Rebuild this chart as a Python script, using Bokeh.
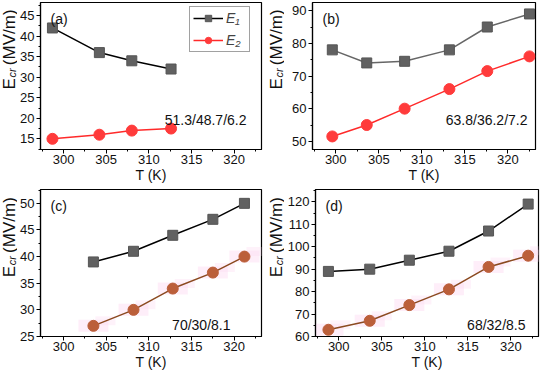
import math
from bokeh.plotting import figure
from bokeh.models import Label, Legend, LegendItem, Range1d, FixedTicker
from bokeh.layouts import column, row
from bokeh.embed import file_html
from bokeh.resources import INLINE

# ---------------- data ----------------
T_a = [298.7, 304.2, 308.0, 312.6]
E1_a = [42, 36, 34, 32]
E2_a = [15, 16, 17, 17.5]

T_b = [299.6, 303.6, 308.0, 313.2, 317.6, 322.5]
E1_b = [78, 74, 74.5, 78, 85, 89]
E2_b = [51.5, 55, 60, 66, 71.5, 76]

T_c = [303.5, 308.2, 312.8, 317.5, 321.2]
E1_c = [39, 41, 44, 47, 50]
E2_c = [27, 30, 34, 37, 40]

T_d = [298.8, 303.6, 308.2, 312.8, 317.4, 322.0]
E1_d = [89, 90, 94, 98, 107, 119]
E2_d = [63, 67, 74, 81, 91, 96]

x_ticks = [300, 305, 310, 315, 320]
y_ticks_a = [15, 20, 25, 30, 35, 40, 45]
y_ticks_b = [50, 60, 70, 80, 90]
y_ticks_c = [25, 30, 35, 40, 45, 50]
y_ticks_d = [60, 70, 80, 90, 100, 110, 120]

panel_tags = ["(a)", "(b)", "(c)", "(d)"]
ratios = ["51.3/48.7/6.2", "63.8/36.2/7.2", "70/30/8.1", "68/32/8.5"]

X0, X1 = 297.3, 323.2
FONT = "Liberation Sans"
FH = 147
TXT = "#111111"


def make(T, E1, E2, yr, yt, tag, ratio, fw, left, right, top, bottom,
         e1_line, e2_line, e2_fill, halo, ratio_pos, legend=False):
    p = figure(frame_width=fw, frame_height=FH, output_backend="svg",
               toolbar_location=None, x_range=Range1d(X0, X1),
               y_range=Range1d(*yr), min_border_left=left,
               min_border_right=right, min_border_top=top,
               min_border_bottom=bottom)
    p.outline_line_color = "black"
    p.outline_line_width = 1.2
    p.grid.visible = False
    p.background_fill_color = "white"
    p.border_fill_color = "white"
    for ax in (p.xaxis[0], p.yaxis[0]):
        ax.axis_line_color = "black"
        ax.axis_line_width = 1.2
        ax.major_tick_line_color = "black"
        ax.minor_tick_line_color = "black"
        ax.major_tick_out = 4
        ax.major_tick_in = 0
        ax.minor_tick_out = 2
        ax.minor_tick_in = 0
        ax.major_label_text_font = FONT
        ax.major_label_text_font_size = "13px"
        ax.major_label_text_color = TXT
    p.xaxis.ticker = FixedTicker(ticks=x_ticks,
                                 minor_ticks=[t + 2.5 for t in [295] + x_ticks])
    step = yt[1] - yt[0]
    p.yaxis.ticker = FixedTicker(ticks=yt,
                                 minor_ticks=[t + step / 2 for t in [yt[0] - step] + yt])
    p.xaxis.axis_label = "T (K)"
    p.xaxis.axis_label_text_font = FONT
    p.xaxis.axis_label_text_font_size = "14px"
    p.xaxis.axis_label_text_font_style = "normal"
    p.xaxis.axis_label_text_color = TXT
    p.xaxis.axis_label_standoff = 0
    p.xaxis.major_label_standoff = 1
    p.yaxis.major_label_standoff = 2

    xpp = (X1 - X0) / fw
    ypp = (yr[1] - yr[0]) / FH

    if halo:
        p.rect(T, E2, width=30 * xpp, height=12 * ypp, fill_color="#fcd9f1",
               fill_alpha=0.45, line_color=None)
        p.rect([t + 12 * xpp for t in T], [e + 5 * ypp for e in E2],
               width=20 * xpp, height=9 * ypp, fill_color="#fcd9f1",
               fill_alpha=0.35, line_color=None)

    l1 = p.line(T, E1, line_color=e1_line, line_width=1.5)
    s1 = p.scatter(T, E1, marker="square", size=10, fill_color="#616161",
                   line_color="#555555")
    l2 = p.line(T, E2, line_color=e2_line, line_width=1.5)
    s2 = p.scatter(T, E2, marker="circle", size=11, fill_color=e2_fill,
                   line_color=e2_fill)

    p.add_layout(Label(x=X0 + 10 * xpp, y=yr[1] - 16 * ypp, text=tag,
                       text_font=FONT, text_font_size="14px",
                       text_baseline="alphabetic", text_color=TXT))
    rx, ry = ratio_pos
    p.add_layout(Label(x=X1 - rx * xpp, y=yr[0] + ry * ypp, text=ratio,
                       text_font=FONT, text_font_size="14px",
                       text_align="right", text_baseline="alphabetic",
                       text_color=TXT))

    if legend:
        lg = Legend(items=[LegendItem(label="E\u2081", renderers=[l1, s1]),
                           LegendItem(label="E\u2082", renderers=[l2, s2])],
                    location=(149, 97))
        lg.label_text_font = FONT
        lg.label_text_font_style = "italic"
        lg.label_text_font_size = "14px"
        lg.glyph_width = 30
        lg.glyph_height = 16
        lg.label_height = 16
        lg.label_standoff = 3
        lg.spacing = 6
        lg.padding = 3
        lg.margin = 0
        lg.border_line_color = "#444444"
        lg.border_line_width = 1
        lg.background_fill_alpha = 1
        p.add_layout(lg, "center")
    return p


def ylabel(width, height, frame_bottom, cx):
    """Narrow strip carrying the rotated 'E_cr (MV/m)' axis title."""
    f = figure(width=width, height=height, x_range=Range1d(0, width),
               y_range=Range1d(0, height), min_border=0,
               toolbar_location=None, output_backend="svg",
               x_axis_type=None, y_axis_type=None)
    f.outline_line_color = None
    f.grid.visible = False
    f.background_fill_color = "white"
    f.border_fill_color = "white"
    common = dict(angle=math.pi / 2, text_font=FONT, text_align="center",
                  text_baseline="middle", text_color=TXT)
    f.add_layout(Label(x=cx, y=frame_bottom + 46, text="E",
                       text_font_size="17px", **common))
    f.add_layout(Label(x=cx + 3, y=frame_bottom + 60, text="cr",
                       text_font_size="11px", text_font_style="italic",
                       **common))
    f.add_layout(Label(x=cx, y=frame_bottom + 105, text="(MV/m)",
                       text_font_size="17px", **common))
    return f


pa = make(T_a, E1_a, E2_a, (12.4, 48.2), y_ticks_a, panel_tags[0], ratios[0],
          221, 22, 6, 2, 37, "black", "#ff2a2a", "#ff3b3b", False, (15, 30),
          legend=True)
pb = make(T_b, E1_b, E2_b, (47.5, 92.5), y_ticks_b, panel_tags[1], ratios[1],
          223, 28, 2, 2, 37, "#666666", "#ff2a2a", "#ff3b3b", False, (8, 30))
pc = make(T_c, E1_c, E2_c, (25, 52.6), y_ticks_c, panel_tags[2], ratios[2],
          221, 22, 6, 3, 36, "black", "#8b4a20", "#bb5f3a", True, (31, 12))
pd = make(T_d, E1_d, E2_d, (60, 125.5), y_ticks_d, panel_tags[3], ratios[3],
          223, 28, 2, 3, 36, "black", "#8b4a20", "#bb5f3a", True, (13, 12))

H_TOP = 2 + FH + 37
H_BOT = 3 + FH + 36
la = ylabel(17, H_TOP, 37, 8.5)
lb = ylabel(17, H_TOP, 37, 8.5)
lc = ylabel(17, H_BOT, 36, 8.5)
ld = ylabel(17, H_BOT, 36, 8.5)

layout = column(row(la, pa, lb, pb), row(lc, pc, ld, pd))
open("out.html", "w").write(file_html(layout, INLINE))
